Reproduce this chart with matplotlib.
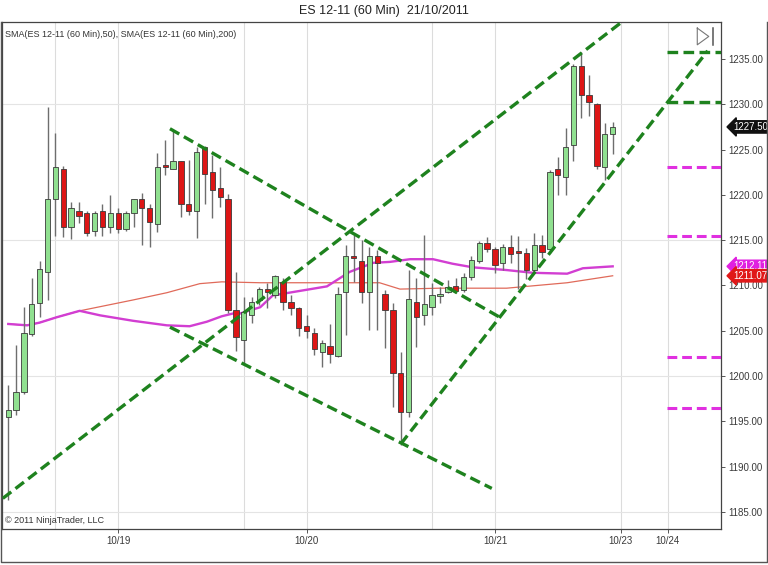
import matplotlib
matplotlib.use("Agg")
import matplotlib.pyplot as plt
from matplotlib.lines import Line2D

plt.rcParams['font.family'] = ['Liberation Sans Narrow', 'Liberation Sans', 'DejaVu Sans']

# 60 min bars, ES 12-11 (bar index = position on the time axis)
opens = [1195.5, 1196.3, 1198.2, 1204.6, 1208.1, 1211.5, 1219.5, 1222.8, 1216.5, 1218.2,
         1218.0, 1216.0, 1218.2, 1216.5, 1218.0, 1216.2, 1218.0, 1219.5, 1218.6, 1216.8,
         1223.3, 1222.8, 1223.7, 1219.0, 1218.2, 1225.3, 1222.5, 1220.8, 1219.5, 1207.3,
         1204.0, 1206.7, 1208.4, 1209.6, 1209.0, 1210.4, 1208.2, 1207.5, 1205.5, 1204.8,
         1202.7, 1203.3, 1202.2, 1209.3, 1213.3, 1212.7, 1209.3, 1213.3, 1209.1, 1207.3,
         1200.3, 1196.0, 1208.2, 1206.7, 1207.6, 1208.8, 1209.3, 1209.9, 1209.5, 1210.9,
         1212.7, 1214.7, 1214.0, 1212.5, 1214.2, 1213.8, 1213.6, 1211.7, 1214.5, 1214.0,
         1222.9, 1222.0, 1225.5, 1234.2, 1231.0, 1230.0, 1223.1, 1226.7]
highs = [1199.0, 1203.4, 1207.6, 1210.8, 1212.7, 1229.7, 1226.8, 1223.2, 1219.2, 1219.2,
         1218.2, 1218.2, 1219.0, 1220.0, 1218.6, 1218.2, 1219.5, 1220.2, 1219.0, 1224.6,
         1226.1, 1227.2, 1223.7, 1223.8, 1225.3, 1225.4, 1224.4, 1223.1, 1220.1, 1211.5,
         1208.7, 1208.7, 1209.8, 1210.3, 1211.2, 1210.8, 1209.0, 1207.6, 1206.7, 1205.3,
         1204.0, 1205.8, 1209.8, 1214.5, 1215.6, 1215.0, 1214.2, 1213.9, 1209.5, 1208.1,
         1202.7, 1211.7, 1210.8, 1215.6, 1210.3, 1209.8, 1210.6, 1210.8, 1211.4, 1213.3,
         1214.9, 1215.4, 1214.2, 1214.6, 1215.6, 1215.5, 1214.1, 1215.8, 1215.6, 1222.7,
         1224.2, 1227.4, 1234.4, 1235.8, 1233.2, 1230.1, 1227.9, 1228.0]
lows = [1186.3, 1195.7, 1198.0, 1204.4, 1206.5, 1208.4, 1215.5, 1215.4, 1215.1, 1216.9,
        1215.5, 1215.5, 1215.5, 1215.8, 1215.8, 1216.0, 1216.5, 1214.5, 1214.2, 1215.9,
        1222.2, 1222.8, 1217.6, 1217.8, 1215.2, 1219.0, 1217.5, 1218.7, 1207.0, 1202.8,
        1201.4, 1205.9, 1207.8, 1207.5, 1208.6, 1207.3, 1206.7, 1204.4, 1204.2, 1202.3,
        1201.0, 1201.4, 1202.1, 1204.5, 1210.4, 1208.1, 1205.1, 1205.1, 1203.1, 1196.6,
        1192.4, 1195.5, 1203.2, 1205.6, 1206.7, 1208.1, 1209.2, 1209.2, 1209.3, 1210.6,
        1212.5, 1213.7, 1211.4, 1211.7, 1212.5, 1209.6, 1210.7, 1211.4, 1213.0, 1213.6,
        1220.0, 1220.0, 1223.7, 1228.5, 1228.7, 1222.9, 1221.6, 1224.5]
closes = [1196.3, 1198.2, 1204.8, 1208.0, 1211.8, 1219.5, 1223.1, 1216.5, 1218.6, 1217.7,
          1215.8, 1218.0, 1216.5, 1218.0, 1216.2, 1218.0, 1219.5, 1218.6, 1217.0, 1223.1,
          1223.1, 1223.7, 1219.0, 1218.2, 1224.7, 1222.3, 1220.5, 1219.8, 1207.3, 1204.3,
          1207.1, 1208.2, 1209.6, 1209.3, 1211.0, 1208.2, 1207.5, 1205.3, 1205.0, 1203.0,
          1203.6, 1202.4, 1209.1, 1213.3, 1213.0, 1209.3, 1213.3, 1212.5, 1207.3, 1200.3,
          1196.0, 1208.5, 1206.5, 1208.0, 1209.0, 1209.0, 1209.8, 1209.4, 1210.9, 1212.8,
          1214.7, 1214.0, 1212.3, 1214.2, 1213.5, 1213.6, 1211.7, 1214.5, 1213.7, 1222.5,
          1222.2, 1225.3, 1234.2, 1231.0, 1230.2, 1223.2, 1226.7, 1227.5]

# moving averages (bar, price)
sma50_x = [0, 2.4, 4.0, 6.2, 9.1, 11.7, 15.9, 20.2, 23.1, 25.3, 27.2, 28.6, 29.5, 32.1,
           33.7, 40.6, 43.5, 46.5, 48.6, 51.2, 54.1, 56.6, 59.2, 63.5, 66.8, 71.2, 73.2, 77]
sma50_y = [1205.75, 1205.6, 1205.9, 1206.5, 1207.2, 1206.7, 1206.1, 1205.6, 1205.5, 1206.0,
           1206.6, 1206.9, 1206.9, 1207.6, 1208.9, 1209.9, 1211.5, 1212.5, 1212.6, 1212.9,
           1212.9, 1212.4, 1212.0, 1211.7, 1211.4, 1211.3, 1211.9, 1212.11]
sma200_x = [0, 2.4, 4.0, 6.2, 9.1, 15.9, 20.2, 24.4, 27.2, 32.1, 47.3, 49.9, 55, 63.5, 71.2, 77]
sma200_y = [1205.75, 1205.6, 1205.9, 1206.5, 1207.2, 1208.4, 1209.2, 1210.2, 1210.4, 1210.3,
            1210.3, 1209.6, 1209.7, 1209.7, 1210.3, 1211.07]

# hand drawn trend lines ((bar, price), (bar, price))
trend_lines = [
    ((-0.7, 1186.5), (78.2, 1239.1)),
    ((20.6, 1227.3), (62.6, 1206.5)),
    ((20.6, 1205.4), (61.6, 1187.6)),
    ((50.0, 1192.5), (89.1, 1235.9)),
]
green_levels = [1235.8, 1230.25]
magenta_levels = [1223.1, 1215.5, 1202.1, 1196.5]

date_ticks = [14, 38, 62, 78, 84]
date_labels = ["10/19", "10/20", "10/21", "10/23", "10/24"]
vgrid = [6, 14, 30, 38, 54, 62, 78, 84]
hgrid = [1185, 1200, 1215, 1230]
price_ticks = [1185, 1190, 1195, 1200, 1205, 1210, 1215, 1220, 1225, 1230, 1235]


def draw_candles(ax):
    for i in range(len(opens)):
        o, h, l, c = opens[i], highs[i], lows[i], closes[i]
        up = c >= o
        ax.vlines(i, l, h, color="#6e6e6e", linewidth=1.0, zorder=3)
        bottom = min(o, c)
        height = max(abs(c - o), 0.25)
        ax.bar(i, height, bottom=bottom, width=0.68,
               color="#90e090" if up else "#dd1515",
               edgecolor="#3a3a3a", linewidth=0.6, zorder=4)


def main():
    fig = plt.figure(figsize=(7.68, 5.65), dpi=100)
    W, H = 768, 565
    ax = fig.add_axes([2 / W, 1 - 529 / H, 719 / W, 507 / H])

    ax.set_xlim(-0.8, 90.8)
    ax.set_ylim(1183.12, 1239.08)

    for g in vgrid:
        ax.axvline(g, color="#dcdcdc", linewidth=0.8, zorder=0)
    for g in hgrid:
        ax.axhline(g, color="#e4e4e4", linewidth=0.8, zorder=0)

    ax.plot(sma200_x, sma200_y, color="#e06a5a", linewidth=0.9, zorder=2)
    ax.plot(sma50_x, sma50_y, color="#d23ed2", linewidth=1.7, zorder=2)

    draw_candles(ax)

    for (x1, y1), (x2, y2) in trend_lines:
        ax.plot([x1, x2], [y1, y2], color="#1e821e", linewidth=2.4,
                dashes=(3.2, 1.6), zorder=5)
    for lv in green_levels:
        ax.plot([83.9, 90.8], [lv, lv], color="#1e821e", linewidth=2.4,
                dashes=(3.2, 1.6), zorder=5)
    for lv in magenta_levels:
        ax.plot([83.9, 90.8], [lv, lv], color="#e030e0", linewidth=2.2,
                dashes=(3.2, 1.6), zorder=5)

    # axes styling
    ax.yaxis.tick_right()
    ax.set_yticks(price_ticks)
    ax.set_yticklabels([f"{p:.2f}" for p in price_ticks])
    ax.set_xticks(date_ticks)
    ax.set_xticklabels(date_labels)
    ax.tick_params(axis="both", labelsize=7, colors="#3a3a3a", length=3, width=0.6, pad=2)
    for s in ax.spines.values():
        s.set_color("#444444")
        s.set_linewidth(0.9)

    # last value markers
    markers = [(closes[-1], "#111111"), (sma50_y[-1], "#e020e0"), (sma200_y[-1], "#e01818")]
    for val, col in markers:
        ax.annotate(f"{val:.2f}", xy=(1.0, val), xycoords=("axes fraction", "data"),
                    xytext=(9, 0), textcoords="offset points", va="center", ha="left",
                    fontsize=7, color="white",
                    bbox=dict(boxstyle="larrow,pad=0.12", fc=col, ec=col))

    ax.text(0.004, 0.985, "SMA(ES 12-11 (60 Min),50), SMA(ES 12-11 (60 Min),200)",
            transform=ax.transAxes, fontsize=6.5, color="#333333", va="top", ha="left")
    ax.text(0.004, 0.008, "© 2011 NinjaTrader, LLC", transform=ax.transAxes,
            fontsize=6.5, color="#333333", va="bottom", ha="left")

    # scroll-to-end icon
    ax.plot([0.967, 0.967, 0.983, 0.967], [0.988, 0.955, 0.9715, 0.988],
            transform=ax.transAxes, color="#777777", linewidth=0.8, zorder=6)
    ax.plot([0.989, 0.989], [0.955, 0.988], transform=ax.transAxes,
            color="#555555", linewidth=1.1, zorder=6)

    fig.text(0.5, 1 - 11 / H, "ES 12-11 (60 Min)  21/10/2011", ha="center", va="center",
             fontsize=9, color="#222222")

    # outer frame (left, bottom, right)
    fx = [1 / W, 1 / W, 1 - 1 / W, 1 - 1 / W]
    fy = [1 - 22 / H, 3 / H, 3 / H, 1 - 22 / H]
    fig.lines.append(Line2D(fx, fy, transform=fig.transFigure, color="#555555", linewidth=1.0))

    fig.savefig("out.png", dpi=100)


if __name__ == "__main__":
    main()
